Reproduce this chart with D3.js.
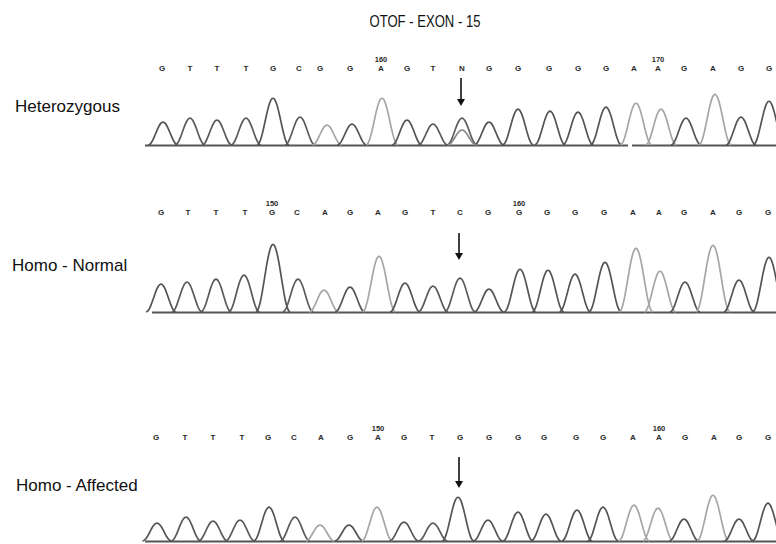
<!DOCTYPE html>
<html>
<head>
<meta charset="utf-8">
<script src="https://cdn.jsdelivr.net/npm/d3@7/dist/d3.min.js"></script>
<style>
  body { margin: 0; background: #fff; }
  svg { display: block; }
  text { font-family: "Liberation Sans", Arial, sans-serif; }
</style>
</head>
<body>
<div id="chart"></div>
<script>
var title = "OTOF - EXON - 15";
var sampleNames = ["Heterozygous", "Homo - Normal", "Homo - Affected"];

// base calls printed above each trace, and their scan positions
var callsHet  = "GTTTGCGGAGTNGGGGGAAGAGG".split("");
var callsNorm = "GTTTGCAGAGTCGGGGGAAGAGG".split("");
var callsAff  = "GTTTGCAGAGTGGGGGGAAGAGG".split("");
var callPosHet  = [162,190,217,246,273,299,320,350,381,407,433,462,489,518,549,578,606,634,658,684,713,741,769];
var callPosNorm = [161,188,216,245,272,297,325,350,378,405,433,460,488,519,547,575,604,633,659,684,713,739,768];
var callPosAff  = [156,185,213,242,268,294,321,350,378,404,432,460,489,518,544,576,603,633,659,685,714,739,768];

// numbered base positions (index into the calls) and their labels
var numIdxHet  = [8, 18],  numTextHet  = ["160", "170"];
var numIdxNorm = [4, 13],  numTextNorm = ["150", "160"];
var numIdxAff  = [8, 18],  numTextAff  = ["150", "160"];

// the variant base (index of arrow)
var variantIdx = [11, 11, 11];

// trace peaks: dye base, scan position, intensity
var dyeHet  = "GTTTGCAGAGTCGGGGGAAGAGG".split("");
var peakPosHet = [163,190,217,246,273,300,327,352,382,407,433,462,489,518,550,578,606,636,661,686,715,741,769];
var peakHet    = [230,270,250,270,470,280,200,210,470,250,210,270,230,360,340,330,380,420,360,270,510,280,440];
// second (minor) allele under the N call
var minorPosHet = [462], minorHet = [150], minorDyeHet = ["G"];

var dyeNorm = "GTTTGCAGAGTCGGGGGAAGAGG".split("");
var peakPosNorm = [161,187,216,244,273,298,324,350,379,405,433,460,489,520,548,575,605,636,660,685,713,739,769];
var peakNorm    = [280,300,330,370,680,330,220,250,560,290,260,340,230,430,420,380,500,640,410,300,670,320,550];

var dyeAff  = "GTTTGCAGAGTGGGGGGAAGAGG".split("");
var peakPosAff = [157,186,213,240,269,295,320,349,377,404,433,458,488,518,546,577,603,634,658,684,713,739,768];
var peakAff    = [180,240,200,210,340,240,160,160,340,190,180,440,210,290,270,310,340,360,330,220,460,220,380];

var width = 776, height = 544;

var svg = d3.select("#chart").append("svg")
    .attr("width", width)
    .attr("height", height);

// scan -> screen x, shared by all panels
var x = d3.scaleLinear().domain([0, 776]).range([0, 776]);

var dyeColor = d3.scaleOrdinal()
    .domain(["A", "C", "G", "T"])
    .range(["#a6a6a6", "#5c5c5c", "#545454", "#595959"]);

svg.append("text")
    .attr("x", 425).attr("y", 27)
    .attr("text-anchor", "middle")
    .attr("font-size", 17)
    .attr("textLength", 111)
    .attr("lengthAdjust", "spacingAndGlyphs")
    .attr("fill", "#111")
    .text(title);

var panels = [
  { calls: callsHet, callPos: callPosHet, numIdx: numIdxHet, numText: numTextHet,
    dye: dyeHet, pos: peakPosHet, h: peakHet,
    minor: { pos: minorPosHet, h: minorHet, dye: minorDyeHet },
    base: 145, callY: 71, labelX: 15, labelY: 112, lineFrom: 145, gap: [628, 632], arrow: [78, 106] },
  { calls: callsNorm, callPos: callPosNorm, numIdx: numIdxNorm, numText: numTextNorm,
    dye: dyeNorm, pos: peakPosNorm, h: peakNorm, minor: null,
    base: 312, callY: 215, labelX: 12, labelY: 271, lineFrom: 152, gap: null, arrow: [233, 260] },
  { calls: callsAff, callPos: callPosAff, numIdx: numIdxAff, numText: numTextAff,
    dye: dyeAff, pos: peakPosAff, h: peakAff, minor: null,
    base: 541, callY: 440, labelX: 16, labelY: 491, lineFrom: 145, gap: null, arrow: [457, 488] }
];

// raised-cosine hump, a bit wider for the tall peaks
function peakPoints(p, h) {
  var w = 13.5 + h * 0.005;
  var pts = [];
  for (var dx = -w; dx <= w + 0.01; dx += w / 12) {
    pts.push([p + dx, h * (1 + Math.cos(Math.PI * dx / w)) / 2]);
  }
  return pts;
}

panels.forEach(function(pn, i) {
  var y = d3.scaleLinear().domain([0, 100]).range([pn.base, pn.base - 10]);
  var g = svg.append("g");

  // sample name
  g.append("text")
      .attr("x", pn.labelX).attr("y", pn.labelY)
      .attr("font-size", 17)
      .attr("fill", "#111")
      .text(sampleNames[i]);

  // base calls
  g.selectAll(".call")
      .data(pn.calls)
      .enter().append("text")
      .attr("class", "call")
      .attr("x", function(d, j) { return x(pn.callPos[j]); })
      .attr("y", pn.callY)
      .attr("text-anchor", "middle")
      .attr("font-size", 8)
      .attr("font-weight", "bold")
      .attr("fill", "#2a2a2a")
      .text(function(d) { return d; });

  // position numbers
  g.selectAll(".num")
      .data(pn.numIdx)
      .enter().append("text")
      .attr("class", "num")
      .attr("x", function(d) { return x(pn.callPos[d]); })
      .attr("y", pn.callY - 9)
      .attr("text-anchor", "middle")
      .attr("font-size", 7.5)
      .attr("font-weight", "bold")
      .attr("fill", "#2a2a2a")
      .text(function(d, j) { return pn.numText[j]; });

  // baseline
  var segs = pn.gap ? [[pn.lineFrom, pn.gap[0]], [pn.gap[1], 776]] : [[pn.lineFrom, 776]];
  g.selectAll(".base")
      .data(segs)
      .enter().append("line")
      .attr("x1", function(d) { return x(d[0]); })
      .attr("x2", function(d) { return x(d[1]); })
      .attr("y1", y(0) + 0.5).attr("y2", y(0) + 0.5)
      .attr("stroke", "#555")
      .attr("stroke-width", 2.2);

  var line = d3.line()
      .x(function(d) { return x(d[0]); })
      .y(function(d) { return y(d[1]); })
      .curve(d3.curveBasis);

  var peaks = pn.pos.map(function(p, j) { return { p: p, h: pn.h[j], dye: pn.dye[j] }; });
  if (pn.minor) {
    pn.minor.pos.forEach(function(p, j) {
      peaks.push({ p: p, h: pn.minor.h[j], dye: pn.minor.dye[j], minor: true });
    });
  }

  g.selectAll(".peak")
      .data(peaks)
      .enter().append("path")
      .attr("class", "peak")
      .attr("d", function(d) { return line(peakPoints(d.p, d.h)); })
      .attr("fill", "none")
      .attr("stroke", function(d) { return d.minor ? "#8a8a8a" : dyeColor(d.dye); })
      .attr("stroke-width", 1.7);

  // arrow at the variant
  var ax = x(pn.callPos[variantIdx[i]]) - 1;
  g.append("line")
      .attr("x1", ax).attr("x2", ax)
      .attr("y1", pn.arrow[0]).attr("y2", pn.arrow[1] - 5)
      .attr("stroke", "#111").attr("stroke-width", 1.6);
  g.append("path")
      .attr("d", "M" + (ax - 4) + "," + (pn.arrow[1] - 7) + "L" + (ax + 4) + "," + (pn.arrow[1] - 7) + "L" + ax + "," + pn.arrow[1] + "Z")
      .attr("fill", "#111");
});
</script>
</body>
</html>
